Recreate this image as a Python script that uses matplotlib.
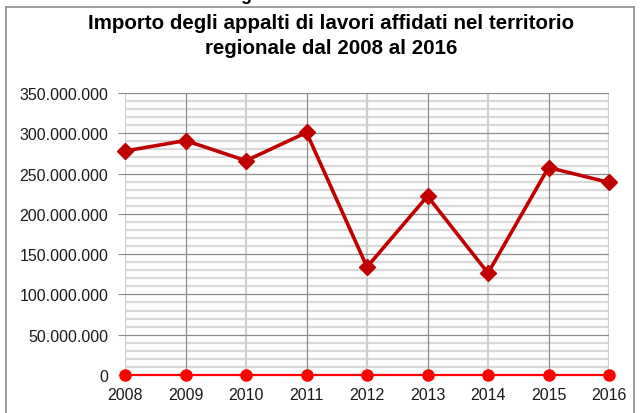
import matplotlib

matplotlib.use("Agg")
import matplotlib.pyplot as plt
from matplotlib.lines import Line2D
from matplotlib.ticker import FuncFormatter, MultipleLocator

# values (euro)
years = [2008, 2009, 2010, 2011, 2012, 2013, 2014, 2015, 2016]
importo = [278e6, 291e6, 266e6, 301e6, 134e6, 222e6, 126.5e6, 257.5e6, 239e6]
zero_series = [0, 0, 0, 0, 0, 0, 0, 0, 0]
title = "Importo degli appalti di lavori affidati nel territorio\nregionale dal 2008 al 2016"

W, H = 643, 414
plt.rcParams["font.family"] = ["Liberation Sans", "DejaVu Sans"]

fig = plt.figure(figsize=(W / 100, H / 100), dpi=100)
ax = fig.add_axes([125 / W, (H - 376) / H, (609 - 125) / W, (376 - 94) / H])

# grid: light minor every 10M, dark major every 50M
for v in range(0, 350_000_001, 10_000_000):
    if v % 50_000_000:
        ax.axhline(v, color="#d9d9d9", lw=1.6, zorder=0)
for v in range(0, 350_000_001, 50_000_000):
    ax.axhline(v, color="#8c8c8c", lw=0.9, zorder=1)
for i, yr in enumerate(years):
    if i % 2:
        ax.axvline(yr, color="#8c8c8c", lw=0.9, zorder=1)
    else:
        ax.axvline(yr, color="#cfcfcf", lw=1.6, zorder=0)

ax.plot(years, zero_series, color="#ff0000", lw=1.6, marker="o", ms=8,
        clip_on=False, zorder=3)
ax.plot(years, importo, color="#c00000", lw=2.6, marker="D", ms=8.5,
        clip_on=False, zorder=4)

ax.set_xlim(years[0], years[-1])
ax.set_ylim(0, 350_000_000)
ax.set_xticks(years)
ax.yaxis.set_major_locator(MultipleLocator(50_000_000))
ax.yaxis.set_major_formatter(FuncFormatter(lambda v, _: f"{v:,.0f}".replace(",", ".")))
ax.tick_params(axis="y", length=5, color="#8c8c8c", labelsize=11.5, pad=7,
               labelcolor="#1a1a1a")
ax.tick_params(axis="x", length=0, labelsize=11.5, pad=9, labelcolor="#1a1a1a")
for s in ax.spines.values():
    s.set_visible(False)

fig.text(331 / W, (H - 36) / H, title, ha="center", va="center",
         fontsize=14.8, fontweight="bold", linespacing=1.45)

# outer chart frame (open at the bottom, cropped)
frame = "#8c8c8c"
fig.add_artist(Line2D([5.5 / W, 5.5 / W], [0, (H - 8) / H], color=frame, lw=1.2))
fig.add_artist(Line2D([633.5 / W, 633.5 / W], [0, (H - 8) / H], color=frame, lw=1.2))
fig.add_artist(Line2D([5.5 / W, 633.5 / W], [(H - 8) / H, (H - 8) / H], color=frame, lw=1.2))
# descender of a cropped caption above the chart
fig.text(246 / W, (H + 4) / H, "g", ha="center", va="center", fontsize=13, fontweight="bold")

fig.savefig("out.png", dpi=100)
